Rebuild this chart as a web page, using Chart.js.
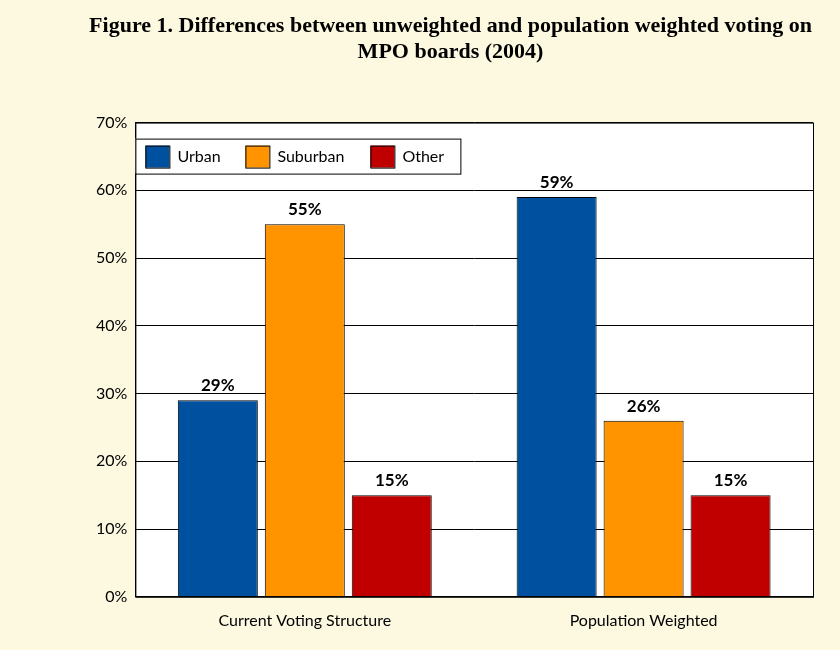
<!DOCTYPE html>
<html>
<head>
<meta charset="utf-8">
<script src="https://cdn.jsdelivr.net/npm/chart.js@4"></script>
<style>
  html, body { margin: 0; padding: 0; background: #fdf9e0; }
  #wrap { width: 840px; height: 650px; }
</style>
</head>
<body>
<div id="wrap"><canvas id="chart" width="840" height="650"></canvas></div>
<script>
// valeurs
const categories = ["Current Voting Structure", "Population Weighted"];
const urban = [29, 59];
const suburban = [55, 26];
const other = [15, 15];
const seriesNames = ["Urban", "Suburban", "Other"];
const seriesColors = ["#0050a0", "#ff9400", "#c00000"];

// fond blanc de la zone de tracé + étiquettes + légende intérieure
const plotExtras = {
  id: "plotExtras",
  beforeDraw(chart) {
    const { ctx, chartArea: a } = chart;
    ctx.save();
    ctx.fillStyle = "#ffffff";
    ctx.fillRect(a.left, a.top, a.right - a.left, a.bottom - a.top);
    ctx.restore();
  },
  afterDatasetsDraw(chart) {
    const { ctx, chartArea: a } = chart;
    ctx.save();
    ctx.strokeStyle = "#000";
    ctx.lineWidth = 1;
    ctx.strokeRect(a.left + 0.5, a.top + 0.5, a.right - a.left, a.bottom - a.top);
    ctx.font = "bold 17px Lato";
    ctx.fillStyle = "#000";
    ctx.textAlign = "center";
    ctx.textBaseline = "bottom";
    chart.data.datasets.forEach((ds, i) => {
      chart.getDatasetMeta(i).data.forEach((bar, j) => {
        ctx.fillText(ds.data[j] + "%", bar.x, bar.y - 6);
      });
    });
    // légende
    const x0 = a.left, y0 = a.top + 16, w = 325, h = 35;
    ctx.fillStyle = "#fff";
    ctx.fillRect(x0, y0, w, h);
    ctx.strokeRect(x0 + 0.5, y0 + 0.5, w, h);
    ctx.font = "16px Lato";
    ctx.textAlign = "left";
    ctx.textBaseline = "middle";
    const xs = [x0 + 10, x0 + 110, x0 + 235];
    seriesNames.forEach((n, i) => {
      ctx.fillStyle = seriesColors[i];
      ctx.fillRect(xs[i], y0 + 7, 24, 22);
      ctx.strokeRect(xs[i] + 0.5, y0 + 7.5, 24, 22);
      ctx.fillStyle = "#000";
      ctx.fillText(n, xs[i] + 32, y0 + 18);
    });
    ctx.restore();
  }
};

const values = [urban, suburban, other];
new Chart(document.getElementById("chart"), {
  type: "bar",
  data: {
    labels: categories,
    datasets: seriesNames.map((n, i) => ({
      label: n,
      data: values[i],
      backgroundColor: seriesColors[i],
      borderColor: "#000",
      borderWidth: 1,
      categoryPercentage: 0.77,
      barPercentage: 0.92
    }))
  },
  options: {
    responsive: false,
    animation: false,
    layout: { padding: { left: 88, right: 27, top: 0, bottom: 14 } },
    plugins: {
      legend: { display: false },
      tooltip: { enabled: false },
      title: {
        display: true,
        text: ["Figure 1. Differences between unweighted and population weighted voting on", "MPO boards (2004)"],
        font: { family: "Liberation Serif", weight: "bold", size: 22, lineHeight: 1.15 },
        color: "#000",
        padding: { top: 14, bottom: 58 }
      }
    },
    scales: {
      x: {
        grid: { display: false },
        border: { color: "#000" },
        ticks: { color: "#000", font: { family: "Lato", size: 16 }, padding: 6 }
      },
      y: {
        min: 0, max: 70,
        ticks: { stepSize: 10, color: "#000", font: { family: "Lato", size: 16 }, callback: v => v + "%", padding: 8 },
        grid: { color: "#000", drawTicks: false },
        border: { color: "#000" }
      }
    }
  },
  plugins: [plotExtras]
});
</script>
</body>
</html>
